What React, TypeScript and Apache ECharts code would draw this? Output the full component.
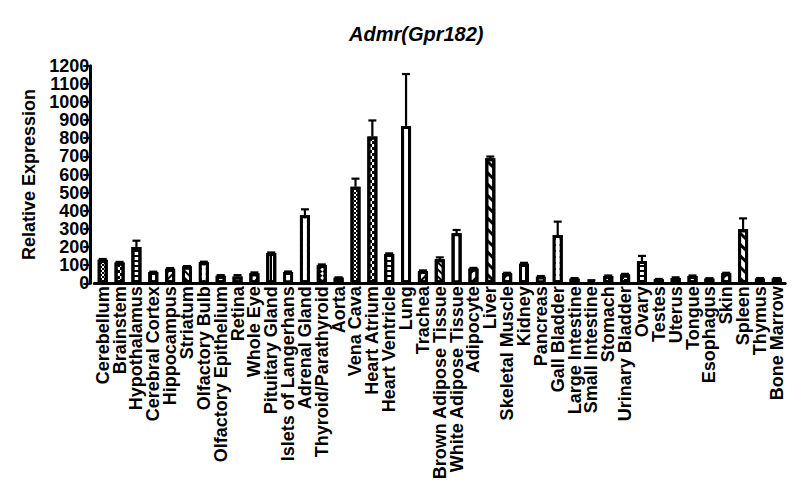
import { useEffect, useRef } from 'react';
import * as echarts from 'echarts';

const tissues = [
    'Cerebellum', 'Brainstem', 'Hypothalamus', 'Cerebral Cortex', 'Hippocampus', 'Striatum',
    'Olfactory Bulb', 'Olfactory Epithelium', 'Retina', 'Whole Eye', 'Pituitary Gland',
    'Islets of Langerhans', 'Adrenal Gland', 'Thyroid/Parathyroid', 'Aorta', 'Vena Cava',
    'Heart Atrium', 'Heart Ventricle', 'Lung', 'Trachea', 'Brown Adipose Tissue',
    'White Adipose Tissue', 'Adipocyte', 'Liver', 'Skeletal Muscle', 'Kidney', 'Pancreas',
    'Gall Bladder', 'Large Intestine', 'Small Intestine', 'Stomach', 'Urinary Bladder', 'Ovary',
    'Testes', 'Uterus', 'Tongue', 'Esophagus', 'Skin', 'Spleen', 'Thymus', 'Bone Marrow'
];

const expression = [
    130, 115, 200, 62, 80, 92, 116, 42, 37, 55, 167,
    62, 375, 101, 31, 533, 810, 162, 868, 68, 132,
    276, 81, 690, 55, 108, 37, 266, 26, 15, 40, 49, 123,
    22, 29, 40, 26, 55, 298, 26, 26
];

const sem = [
    4, 3, 35, 2, 4, 3, 3, 3, 8, 5, 3,
    3, 33, 3, 2, 44, 88, 3, 286, 3, 11,
    18, 4, 9, 3, 5, 3, 74, 3, 2, 3, 3, 28,
    2, 4, 3, 2, 3, 60, 3, 3
];

const yTicks = { min: 0, max: 1200, interval: 100 };

// Prism-like fill patterns, repeating every 15 bars
const base = { symbol: 'rect', symbolSize: 1, color: '#000', backgroundColor: '#fff' };
const patterns: any[] = [
    { ...base, dashArrayX: [[1.5, 1.5], [0, 1.5, 1.5, 0]], dashArrayY: [1.5, 0] },
    { ...base, dashArrayX: [[3, 3], [0, 3, 3, 0]], dashArrayY: [3, 0] },
    { ...base, dashArrayX: [1, 0], dashArrayY: [1.5, 3] },
    { ...base, dashArrayX: [1.5, 4], dashArrayY: [1, 0] },
    { ...base, dashArrayX: [1, 0], dashArrayY: [2, 2.5], rotation: -Math.PI / 4 },
    { ...base, dashArrayX: [1, 0], dashArrayY: [2, 2.5], rotation: Math.PI / 4 },
    { ...base, color: '#fff', backgroundColor: '#000', dashArrayX: [3, 1.5], dashArrayY: [3, 1.5] },
    { ...base, dashArrayX: [1, 0], dashArrayY: [2, 5], rotation: -Math.PI / 4 },
    { ...base, dashArrayX: [1, 0], dashArrayY: [2.5, 5], rotation: Math.PI / 4 },
    { ...base, dashArrayX: [1, 0], dashArrayY: [2, 4], rotation: -Math.PI / 4 },
    { ...base, dashArrayX: [1.5, 2.5], dashArrayY: [1, 0] },
    null,
    { ...base, color: '#fff', backgroundColor: '#000', dashArrayX: [4, 1.5], dashArrayY: [4, 1.5] },
    { ...base, dashArrayX: [[3, 3], [0, 3, 3, 0]], dashArrayY: [3, 0], rotation: Math.PI / 4 },
    { ...base, dashArrayX: [1, 2], dashArrayY: [1, 2] }
];

const font = 'Arial, "Liberation Sans", sans-serif';

export default function App() {
    const chartRef = useRef<HTMLDivElement>(null);

    useEffect(() => {
        document.body.style.margin = '0';
        if (!chartRef.current) return;
        const chart = echarts.init(chartRef.current, null, { renderer: 'svg' });

        const barData = expression.map((v, i) => ({
            value: v,
            itemStyle: {
                color: '#fff',
                borderColor: '#000',
                borderWidth: 3,
                decal: patterns[i % patterns.length] || undefined
            }
        }));

        const errData = expression.map((v, i) => [i, v, sem[i]]);

        chart.setOption({
            animation: false,
            title: {
                text: 'Admr(Gpr182)',
                left: 344,
                top: 19,
                textStyle: { fontFamily: font, fontSize: 20, fontWeight: 'bold', fontStyle: 'italic', color: '#000' }
            },
            grid: { left: 94.3, right: 14.8, top: 65.7, bottom: 204.7 },
            xAxis: {
                type: 'category',
                data: tissues,
                axisLine: { lineStyle: { color: '#000', width: 3 } },
                axisTick: { alignWithLabel: true, length: 8, lineStyle: { color: '#000', width: 2 } },
                axisLabel: {
                    interval: 0,
                    rotate: 90,
                    margin: 3,
                    color: '#000',
                    fontFamily: font,
                    fontSize: 18,
                    fontWeight: 'bold'
                }
            },
            yAxis: {
                type: 'value',
                ...yTicks,
                offset: 4,
                name: 'Relative Expression',
                nameLocation: 'middle',
                nameGap: 46,
                nameTextStyle: { fontFamily: font, fontSize: 18, fontWeight: 'bold', color: '#000' },
                axisLine: { show: true, lineStyle: { color: '#000', width: 3 } },
                axisTick: { show: true, length: 7, lineStyle: { color: '#000', width: 2 } },
                axisLabel: {
                    margin: 1,
                    color: '#000',
                    fontFamily: font,
                    fontSize: 18,
                    fontWeight: 'bold',
                    formatter: (v: number) => String(v)
                },
                splitLine: { show: false }
            },
            series: [
                {
                    type: 'custom',
                    z: 1,
                    data: errData,
                    encode: { x: 0, y: 1 },
                    renderItem: (_params: any, api: any) => {
                        const i = api.value(0);
                        const v = api.value(1);
                        const e = api.value(2);
                        const p0 = api.coord([i, v]);
                        const p1 = api.coord([i, v + e]);
                        const style = { stroke: '#000', lineWidth: 2.2 };
                        return {
                            type: 'group',
                            children: [
                                { type: 'line', shape: { x1: p0[0], y1: p0[1], x2: p1[0], y2: p1[1] }, style },
                                { type: 'line', shape: { x1: p1[0] - 4, y1: p1[1], x2: p1[0] + 4, y2: p1[1] }, style }
                            ]
                        };
                    }
                },
                {
                    type: 'bar',
                    z: 2,
                    barWidth: 10,
                    data: barData
                }
            ]
        });

        return () => chart.dispose();
    }, []);

    return <div ref={chartRef} style={{ width: '800px', height: '488px' }}></div>;
}
